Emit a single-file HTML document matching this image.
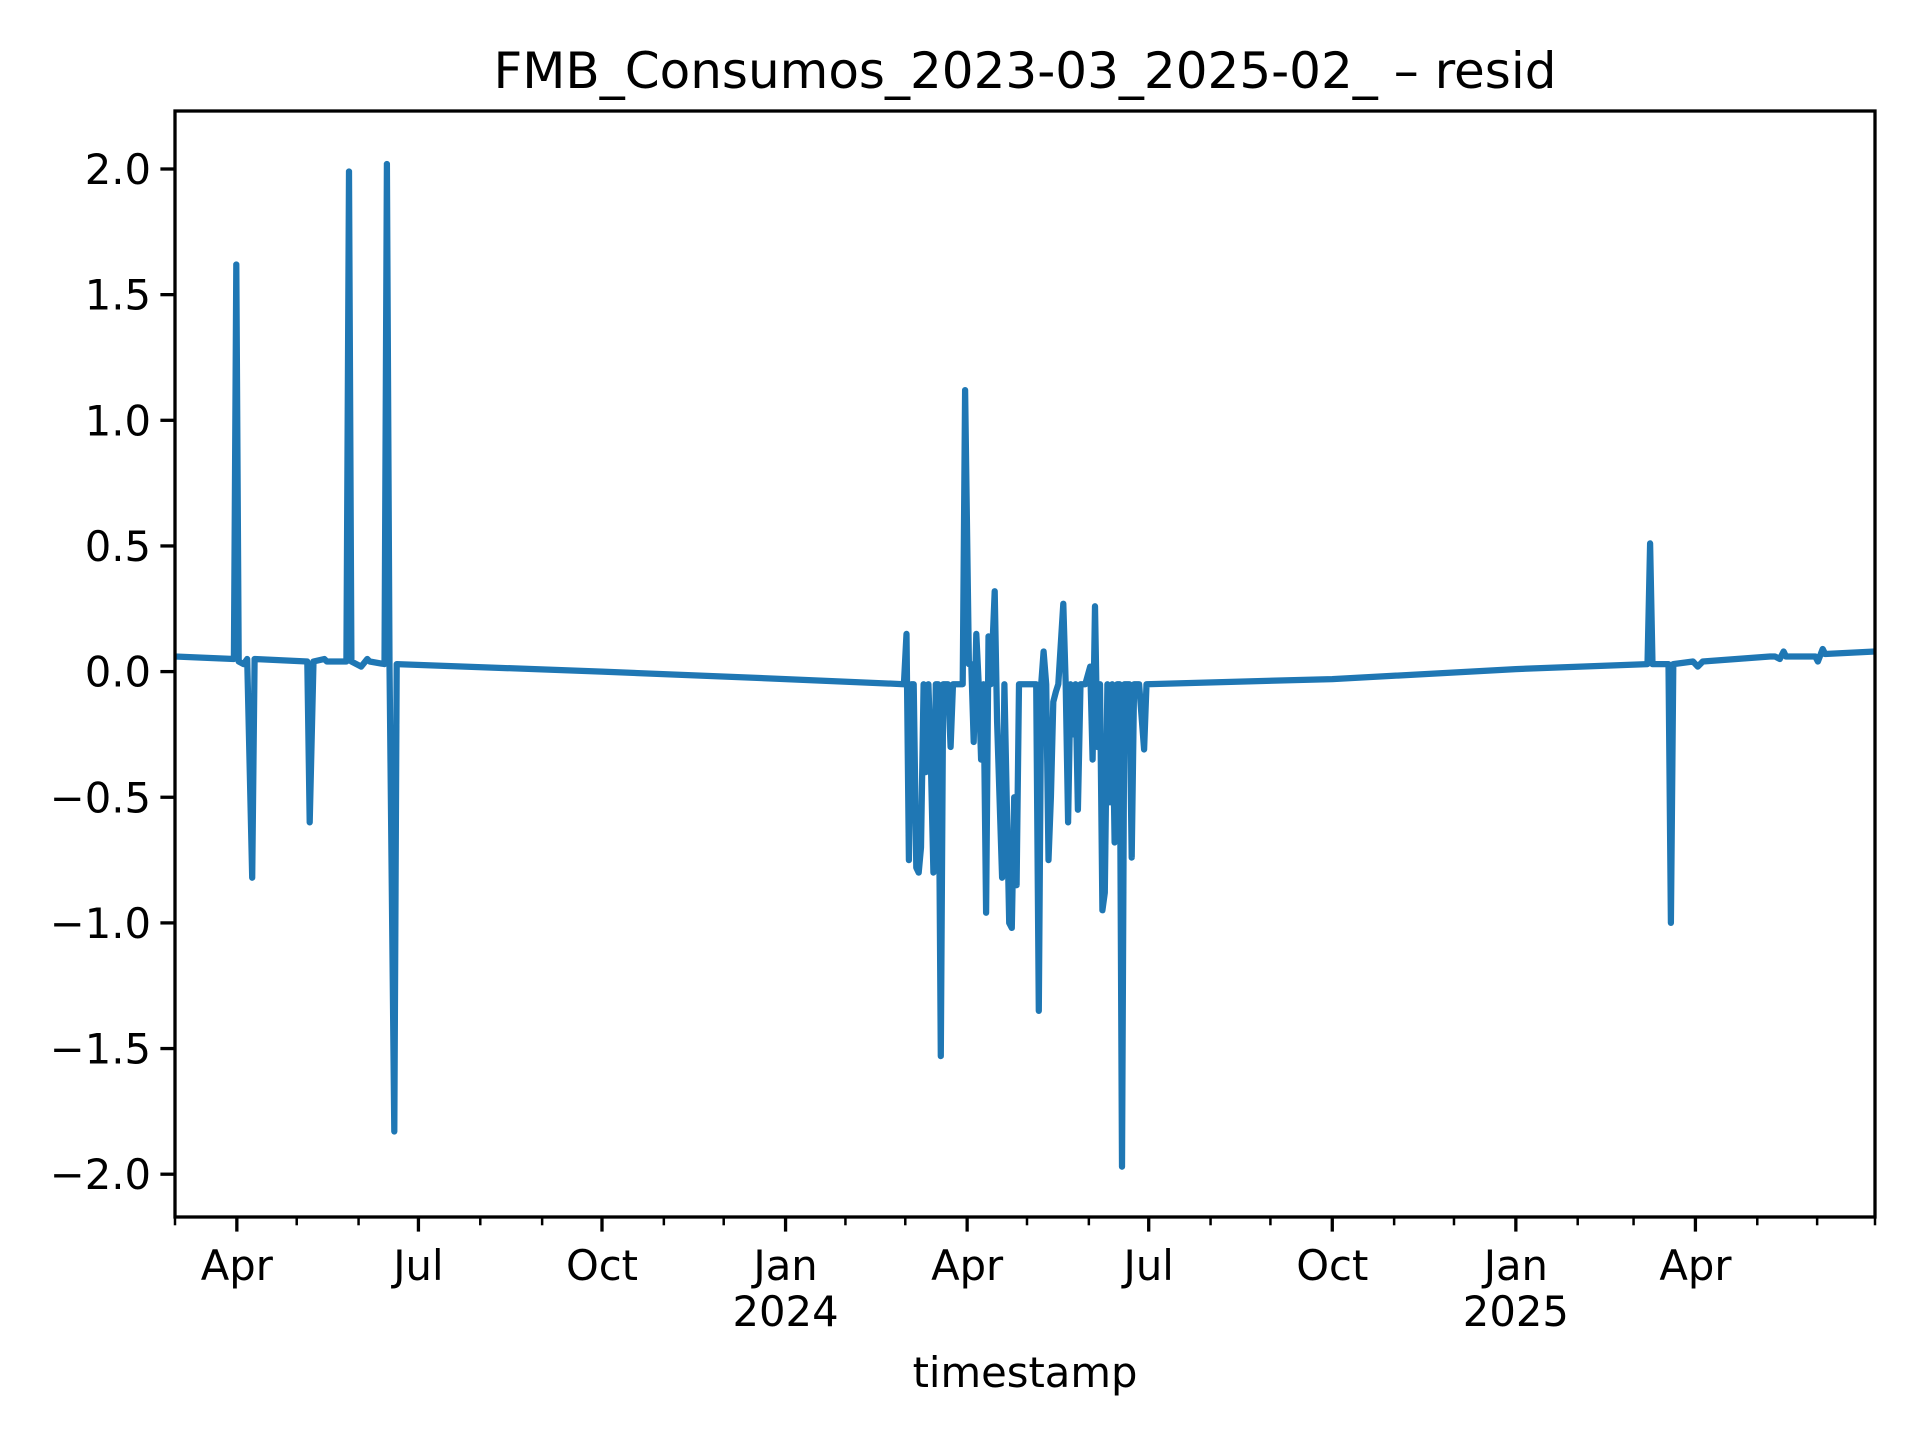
<!DOCTYPE html>
<html><head><meta charset="utf-8">
<style>
body{margin:0;background:#fff;}
svg{display:block;font-family:"DejaVu Sans","Liberation Sans",sans-serif;}
</style></head>
<body>
<svg id="chart" width="1920" height="1440" viewBox="0 0 1920 1440" xmlns="http://www.w3.org/2000/svg">
<rect width="1920" height="1440" fill="#fff"/>
<text x="1025" y="88" font-size="50" text-anchor="middle">FMB_Consumos_2023-03_2025-02_ – resid</text>
<g id="axes"></g>
<text x="1025" y="1387" font-size="41.7" text-anchor="middle">timestamp</text>
</svg>
<script>
const days = [0,29.5,30.7,31.9,34.4,36.2,38.7,39.9,66.3,67.5,69.4,74.9,76.1,85.9,87.2,88.4,93.3,96.4,97.6,105,106.2,107.5,109.9,111.1,214,306,
365.3,366.6,367.8,369,370.2,371.5,372.7,373.9,375.2,376.4,377.6,378.8,380.1,381.3,382.5,383.8,385,387.4,388.7,389.9,394.8,396,397.9,399.1,400.3,401.6,402.8,404,405.2,406.5,407.7,408.9,410.8,412,414.5,415.7,418.1,419.4,420.6,421.8,423,425.5,431.6,432.9,434.1,435.3,436.6,437.8,439,440.2,441.5,442.7,445.2,446.4,447.6,448.8,450.1,451.3,452.5,453.8,456.2,458.7,459.9,461.1,462.3,463.6,464.8,466,467.3,468.5,469.7,470.9,472.2,473.4,474.6,475.8,478.3,479.5,480.7,483.2,485.7,486.9,
580,672,738,739.3,740.5,748.5,749.7,750.9,760.8,763.2,765.7,799.4,801.9,804.3,806.2,807.4,822.1,823.4,825.8,827,852];
const resid = [0.06,0.05,1.62,0.04,0.03,0.05,-0.82,0.05,0.04,-0.60,0.04,0.05,0.04,0.04,1.99,0.04,0.02,0.05,0.04,0.03,2.02,0.03,-1.83,0.03,0.00,-0.03,
-0.05,0.15,-0.75,-0.05,-0.05,-0.78,-0.80,-0.70,-0.05,-0.40,-0.05,-0.35,-0.80,-0.05,-0.05,-1.53,-0.05,-0.05,-0.30,-0.05,-0.05,1.12,0.03,0.03,-0.28,0.15,-0.05,-0.35,-0.05,-0.96,0.14,-0.05,0.32,-0.20,-0.82,-0.05,-1.00,-1.02,-0.50,-0.85,-0.05,-0.05,-0.05,-1.35,-0.05,0.08,-0.05,-0.75,-0.50,-0.12,-0.08,-0.05,0.27,-0.05,-0.60,-0.05,-0.25,-0.05,-0.55,-0.05,-0.05,0.02,-0.35,0.26,-0.30,-0.05,-0.95,-0.88,-0.05,-0.52,-0.05,-0.68,-0.05,-0.05,-1.97,-0.05,-0.05,-0.74,-0.05,-0.05,-0.31,-0.05,
-0.03,0.01,0.03,0.51,0.03,0.03,-1.00,0.03,0.04,0.02,0.04,0.06,0.06,0.05,0.08,0.06,0.06,0.04,0.09,0.07,0.08];
const yTicks = [2.0,1.5,1.0,0.5,0.0,-0.5,-1.0,-1.5,-2.0];
const yTickLabels = ["2.0","1.5","1.0","0.5","0.0","\u22120.5","\u22121.0","\u22121.5","\u22122.0"];
const xMajorDays = [31,122,214,306,397,488,580,672,762];
const xMajorLabels = ["Apr","Jul","Oct","Jan","Apr","Jul","Oct","Jan","Apr"];
const xYearLabels = ["","","","2024","","","","2025",""];
const xMinorDays = [0,61,92,153,184,245,275,336,366,427,458,519,549,611,641,703,731,793,823,852];

const L=175,R=1875,T=111,B=1217;
const xs = d => L + d*(R-L)/852;
const ys = v => 169 + (2 - v)*251.3;
const NS="http://www.w3.org/2000/svg";
const g=document.getElementById('axes');
function mk(tag,attrs){const e=document.createElementNS(NS,tag);for(const k in attrs)e.setAttribute(k,attrs[k]);g.appendChild(e);return e;}

let d='';
for(let i=0;i<days.length;i++){d+=(i?'L':'M')+xs(days[i]).toFixed(1)+' '+ys(resid[i]).toFixed(1);}
const clip=mk('clipPath',{id:'clp'});
const cr=document.createElementNS(NS,'rect');cr.setAttribute('x',L);cr.setAttribute('y',T);cr.setAttribute('width',R-L);cr.setAttribute('height',B-T);clip.appendChild(cr);
const line=mk('path',{d:d,fill:'none',stroke:'#1f77b4','stroke-width':6.25,'stroke-linejoin':'round','clip-path':'url(#clp)'});



yTicks.forEach((v,i)=>{
  const y=ys(v);
  const t=mk('line',{x1:L-14.6,x2:L,y1:y,y2:y,stroke:'#000','stroke-width':3.3});
  
  
  const tx=mk('text',{x:L-24,y:y+15,'font-size':41.7,'text-anchor':'end'});
  
  
  tx.textContent=yTickLabels[i];
});
xMinorDays.forEach(dd=>{
  const x=xs(dd);
  const t=mk('line',{x1:x,x2:x,y1:B,y2:B+8.3,stroke:'#000','stroke-width':2.5});
  
  
});
xMajorDays.forEach((dd,i)=>{
  const x=xs(dd);
  const t=mk('line',{x1:x,x2:x,y1:B,y2:B+14.6,stroke:'#000','stroke-width':3.3});
  
  
  const tx=mk('text',{x:x,y:1280,'font-size':41.7,'text-anchor':'middle'});
  
  
  tx.textContent=xMajorLabels[i];
  if(xYearLabels[i]){
    const ty=mk('text',{x:x,y:1326,'font-size':41.7,'text-anchor':'middle'});
    
    
    ty.textContent=xYearLabels[i];
  }
});
const fr=mk('rect',{x:L,y:T,width:R-L,height:B-T,fill:'none',stroke:'#000','stroke-width':3.3});


</script>
</body></html>
